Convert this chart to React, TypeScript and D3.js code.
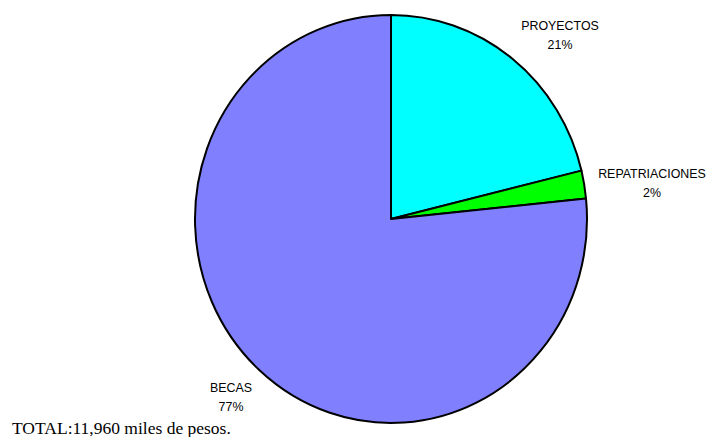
import React from "react";
import * as d3 from "d3";

const categories = ["PROYECTOS", "REPATRIACIONES", "BECAS"];
const values = [2535, 265, 9160];
const percentLabels = ["21%", "2%", "77%"];
const colors = ["#00FFFF", "#00FF00", "#8080FF"];
const totalLabel = "TOTAL:11,960 miles de pesos.";

const W = 710;
const H = 437;
const cx = 391;
const cy = 219;
const rx = 196;
const ry = 204;

const labelPos = [
  { x: 560, y: 30 },
  { x: 652, y: 178 },
  { x: 231, y: 392 },
];

export default function App() {
  const pie = d3
    .pie<number>()
    .sort(null)
    .value((d) => d)
    .startAngle(0)
    .endAngle(2 * Math.PI);
  const arcs = pie(values);
  const arc = d3.arc<d3.PieArcDatum<number>>().innerRadius(0).outerRadius(1);

  return (
    <svg
      width={W}
      height={H}
      style={{ position: "absolute", left: 0, top: 0, background: "#fff" }}
    >
      <g transform={`translate(${cx},${cy}) scale(${rx},${ry})`}>
        {arcs.map((a, i) => (
          <path
            key={categories[i]}
            d={arc(a) || ""}
            fill={colors[i]}
            stroke="#000"
            strokeWidth={2}
            strokeLinejoin="round"
            vectorEffect="non-scaling-stroke"
          />
        ))}
      </g>
      {categories.map((c, i) => (
        <text
          key={c}
          x={labelPos[i].x}
          y={labelPos[i].y}
          textAnchor="middle"
          fontFamily="Liberation Sans, Arial, sans-serif"
          fontSize={12.4}
          fill="#000"
        >
          <tspan x={labelPos[i].x}>{c}</tspan>
          <tspan x={labelPos[i].x} dy={18.5}>
            {percentLabels[i]}
          </tspan>
        </text>
      ))}
      <text
        x={12}
        y={434}
        fontFamily="Liberation Serif, Times New Roman, serif"
        fontSize={17.5}
        fill="#000"
      >
        {totalLabel}
      </text>
    </svg>
  );
}
